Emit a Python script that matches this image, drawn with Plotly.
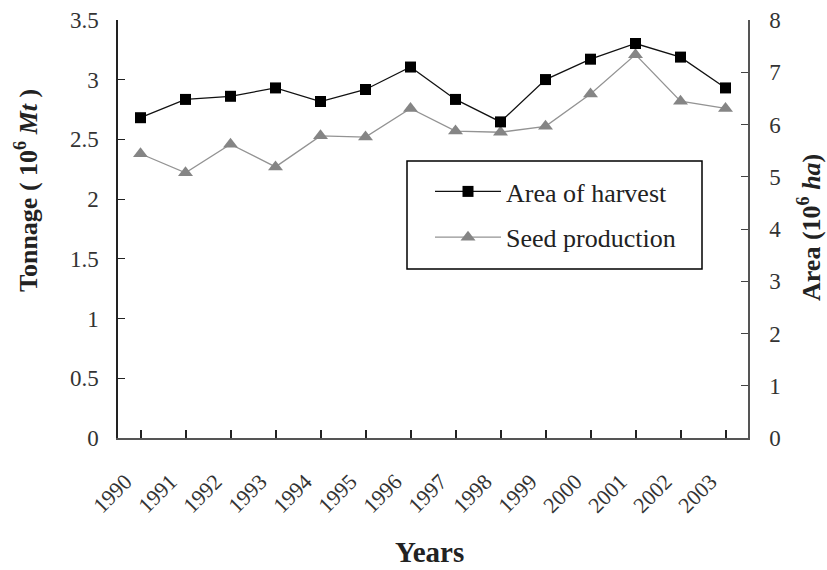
import plotly.graph_objects as go

years = ["1990", "1991", "1992", "1993", "1994", "1995", "1996",
         "1997", "1998", "1999", "2000", "2001", "2002", "2003"]
area_harvest = [6.13, 6.48, 6.54, 6.70, 6.44, 6.67, 7.10,
                6.48, 6.05, 6.86, 7.25, 7.55, 7.29, 6.70]   # 10^6 ha (right axis)
seed_production = [2.38, 2.22, 2.46, 2.27, 2.53, 2.52, 2.76,
                   2.57, 2.56, 2.61, 2.88, 3.21, 2.82, 2.76]  # 10^6 Mt (left axis)

left_ticks = [0, 0.5, 1, 1.5, 2, 2.5, 3, 3.5]
right_ticks = [0, 1, 2, 3, 4, 5, 6, 7, 8]

FONT = "Liberation Serif, Times New Roman, serif"
AXCOL = "#555555"
TXT = "#222222"

fig = go.Figure()
fig.add_trace(go.Scatter(
    x=years, y=area_harvest, yaxis="y2", name="Area of harvest",
    mode="lines+markers", line=dict(color="#111111", width=1.3),
    marker=dict(symbol="square", size=11, color="#000000"),
    legendgroup="a"))
fig.add_trace(go.Scatter(
    x=years, y=seed_production, yaxis="y", name="Seed production",
    mode="lines+markers", line=dict(color="#939393", width=1.3),
    marker=dict(symbol="triangle-up", size=13, color="#858585"),
    legendgroup="b"))

L, R, T, B = 118, 79, 20, 132
W, H = 827, 570
pw = W - L - R
ph = H - T - B

def px(xp):
    return (xp - L) / pw

def py(yp):
    return (H - B - yp) / ph

# legend frame
fig.add_shape(type="rect", xref="paper", yref="paper",
              x0=px(407), x1=px(702), y0=py(269), y1=py(161),
              line=dict(color="#000000", width=1.5), fillcolor="rgba(0,0,0,0)")

# axis titles as annotations (placed like the reference)
fig.add_annotation(xref="paper", yref="paper", x=px(26), y=py(191),
                   text="<b>Tonnage ( 10<sup>6</sup> <i>Mt</i> )</b>", textangle=-90,
                   showarrow=False, xanchor="center", yanchor="middle",
                   font=dict(family=FONT, size=26, color=TXT))
fig.add_annotation(xref="paper", yref="paper", x=px(809), y=py(228),
                   text="<b>Area (10<sup>6</sup> <i>ha</i>)</b>", textangle=-90,
                   showarrow=False, xanchor="center", yanchor="middle",
                   font=dict(family=FONT, size=26, color=TXT))
fig.add_annotation(xref="paper", yref="paper", x=px(429), y=py(552),
                   text="<b>Years</b>",
                   showarrow=False, xanchor="center", yanchor="middle",
                   font=dict(family=FONT, size=29, color=TXT))

fig.update_layout(
    width=W, height=H,
    margin=dict(l=L, r=R, t=T, b=B, autoexpand=False),
    paper_bgcolor="white", plot_bgcolor="white",
    font=dict(family=FONT, size=22, color=TXT),
    showlegend=True,
    legend=dict(x=px(430), y=py(168), xanchor="left", yanchor="top",
                bgcolor="rgba(0,0,0,0)", borderwidth=0,
                font=dict(family=FONT, size=26, color=TXT),
                traceorder="grouped", tracegroupgap=9, itemwidth=66),
    xaxis=dict(type="category", categoryorder="array", categoryarray=years,
               range=[-0.5, 13.5], showline=True, linecolor=AXCOL, linewidth=2,
               ticks="inside", ticklen=8, tickcolor="#222222", tickwidth=1.5,
               tickangle=-45, ticklabelstandoff=20, ticklabelshift=-15,
               tickfont=dict(family=FONT, size=22, color="#333333"),
               showgrid=False, zeroline=False, automargin=False),
    yaxis=dict(range=[0, 3.5], tickvals=left_ticks,
               ticktext=[f"{v:g}" for v in left_ticks],
               showline=True, linecolor="#222222", linewidth=1.5,
               ticks="inside", ticklen=7, tickcolor="#222222", tickwidth=1.2,
               ticklabelstandoff=13,
               tickfont=dict(family=FONT, size=23, color="#333333"),
               showgrid=False, zeroline=False, automargin=False),
    yaxis2=dict(range=[0, 8], tickvals=right_ticks,
                ticktext=[str(v) for v in right_ticks],
                overlaying="y", side="right",
                showline=True, linecolor=AXCOL, linewidth=1.5,
                ticks="inside", ticklen=7, tickcolor="#444444", tickwidth=1.2,
                ticklabelstandoff=15,
                tickfont=dict(family=FONT, size=23, color="#333333"),
                showgrid=False, zeroline=False, automargin=False),
)

fig.write_html("out.html", config={"displayModeBar": False},
               post_script="document.body.style.margin='0';document.body.style.padding='0';")
